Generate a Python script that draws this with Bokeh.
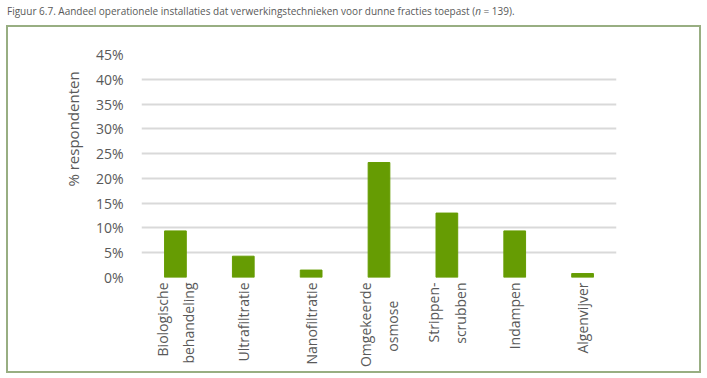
import math
from bokeh.plotting import figure
from bokeh.layouts import column
from bokeh.models import Div, FixedTicker, Range1d, FactorRange, CustomJSTickFormatter
from bokeh.embed import file_html
from bokeh.resources import INLINE

NB = "\u00a0"
categories = ["Biologische\nbehandeling", "Ultrafiltratie", "Nanofiltratie", "Omgekeerde\nosmose" + NB * 5,
              "Strippen-\nscrubben", "Indampen", "Algenvijver"]
values = [9.4, 4.3, 1.5, 23.2, 13.0, 9.4, 0.8]
yticks = [0, 5, 10, 15, 20, 25, 30, 35, 40, 45]
title = "Figuur 6.7. Aandeel operationele installaties dat verwerkingstechnieken voor dunne fracties toepast (<i>n</i> = 139)."
ylabel = NB * 19 + "% respondenten"

FONT = "Open Sans"
GREY = "#595959"

p = figure(width=695, height=348, x_range=FactorRange(*categories, range_padding=0),
           y_range=Range1d(0, 45), output_backend="svg", toolbar_location=None,
           min_border_left=135, min_border_right=85, min_border_top=29, min_border_bottom=96)
p.margin = (0, 0, 0, 6)
p.styles = {"outline": "2px solid #98ae82", "outline-offset": "-2px"}
p.outline_line_color = None
p.background_fill_color = "white"
p.border_fill_color = None

p.vbar(x=categories, top=values, width=0.32, color="#669c03")

p.yaxis.ticker = FixedTicker(ticks=yticks)
p.yaxis.formatter = CustomJSTickFormatter(code="return tick + '%'")
p.yaxis.axis_line_color = None
p.yaxis.major_tick_line_color = None
p.yaxis.minor_tick_line_color = None
p.yaxis.major_tick_out = 0
p.yaxis.major_label_standoff = 18
p.yaxis.major_label_text_font = FONT
p.yaxis.major_label_text_font_size = "14px"
p.yaxis.major_label_text_color = GREY
p.yaxis.axis_label = ylabel
p.yaxis.axis_label_standoff = 10
p.yaxis.axis_label_text_font = FONT
p.yaxis.axis_label_text_font_size = "15px"
p.yaxis.axis_label_text_font_style = "normal"
p.yaxis.axis_label_text_color = GREY

p.xaxis.axis_line_color = None
p.xaxis.major_tick_line_color = None
p.xaxis.major_tick_out = 0
p.xaxis.major_tick_in = 0
p.xaxis.major_label_orientation = math.pi / 2
p.xaxis.major_label_standoff = 5
p.xaxis.major_label_text_font = FONT
p.xaxis.major_label_text_font_size = "14px"
p.xaxis.major_label_text_color = GREY
p.xaxis.major_label_text_line_height = 1.4

p.xgrid.grid_line_color = None
p.ygrid.grid_line_color = "#d9d9d9"
p.ygrid.grid_line_width = 2

div = Div(text=title, width=700, height=25, margin=(0, 0, 0, 0),
          styles={"font-family": FONT, "font-size": "10px", "color": GREY,
                  "padding-left": "7px", "line-height": "22px", "white-space": "nowrap"})

layout = column(div, p, spacing=0)
open("out.html", "w").write(file_html(layout, INLINE))
